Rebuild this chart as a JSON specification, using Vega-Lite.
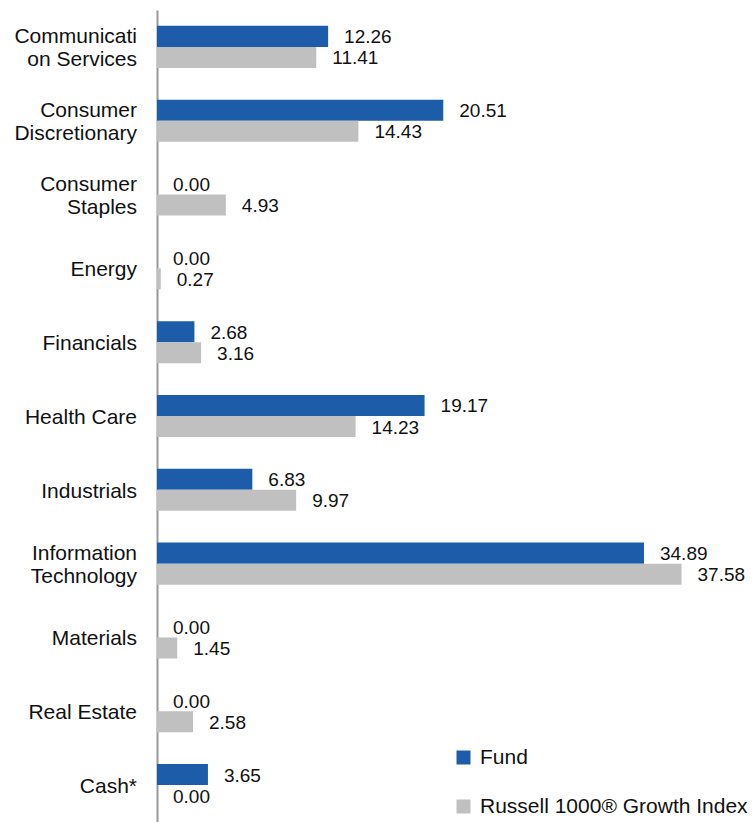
{
  "$schema": "https://vega.github.io/schema/vega-lite/v6.json",
  "autosize": {"type": "none"},
  "padding": {"left": 157, "top": 10, "right": 0, "bottom": 0},
  "width": 596,
  "height": 812,
  "background": "white",
  "config": {"view": {"stroke": null}, "font": "Liberation Sans"},
  "data": {"values": [
    {"sector": "Communicati|on Services", "series": "Fund", "value": 12.26},
    {"sector": "Communicati|on Services", "series": "Russell 1000®  Growth Index", "value": 11.41},
    {"sector": "Consumer|Discretionary", "series": "Fund", "value": 20.51},
    {"sector": "Consumer|Discretionary", "series": "Russell 1000®  Growth Index", "value": 14.43},
    {"sector": "Consumer|Staples", "series": "Fund", "value": 0.00},
    {"sector": "Consumer|Staples", "series": "Russell 1000®  Growth Index", "value": 4.93},
    {"sector": "Energy", "series": "Fund", "value": 0.00},
    {"sector": "Energy", "series": "Russell 1000®  Growth Index", "value": 0.27},
    {"sector": "Financials", "series": "Fund", "value": 2.68},
    {"sector": "Financials", "series": "Russell 1000®  Growth Index", "value": 3.16},
    {"sector": "Health Care", "series": "Fund", "value": 19.17},
    {"sector": "Health Care", "series": "Russell 1000®  Growth Index", "value": 14.23},
    {"sector": "Industrials", "series": "Fund", "value": 6.83},
    {"sector": "Industrials", "series": "Russell 1000®  Growth Index", "value": 9.97},
    {"sector": "Information|Technology", "series": "Fund", "value": 34.89},
    {"sector": "Information|Technology", "series": "Russell 1000®  Growth Index", "value": 37.58},
    {"sector": "Materials", "series": "Fund", "value": 0.00},
    {"sector": "Materials", "series": "Russell 1000®  Growth Index", "value": 1.45},
    {"sector": "Real Estate", "series": "Fund", "value": 0.00},
    {"sector": "Real Estate", "series": "Russell 1000®  Growth Index", "value": 2.58},
    {"sector": "Cash*", "series": "Fund", "value": 3.65},
    {"sector": "Cash*", "series": "Russell 1000®  Growth Index", "value": 0.00}
  ]},
  "encoding": {
    "y": {
      "field": "sector", "type": "nominal", "sort": null,
      "scale": {"paddingInner": 0.43, "paddingOuter": 0.215},
      "axis": {
        "title": null, "ticks": false, "labels": false, "domainColor": "#999999", "domainWidth": 2
      }
    },
    "x": {"field": "value", "type": "quantitative", "scale": {"domain": [0, 42.7], "nice": false}, "axis": null}
  },
  "layer": [
    {
      "mark": {"type": "bar"},
      "encoding": {
        "yOffset": {"field": "series", "type": "nominal", "sort": ["Fund", "Russell 1000®  Growth Index"]},
        "color": {
          "field": "series", "type": "nominal",
          "scale": {"domain": ["Fund", "Russell 1000®  Growth Index"], "range": ["#1c5ca8", "#c0c0c0"]},
          "legend": {
            "title": null, "orient": "none", "legendX": 296, "legendY": 737,
            "symbolType": "square", "symbolSize": 196, "labelFontSize": 21, "labelColor": "#111111",
            "rowPadding": 27, "labelOffset": 6, "symbolStrokeWidth": 0, "labelLimit": 0
          }
        }
      }
    },
    {
      "mark": {"type": "text", "align": "left", "baseline": "middle", "dx": 16, "dy": 1, "fontSize": 19, "color": "#111111"},
      "encoding": {
        "yOffset": {"field": "series", "type": "nominal", "sort": ["Fund", "Russell 1000®  Growth Index"]},
        "text": {"field": "value", "type": "quantitative", "format": ".2f"}
      }
    },
    {
      "transform": [{"filter": "datum.series == 'Fund' && indexof(datum.sector, '|') < 0"}],
      "mark": {"type": "text", "align": "right", "baseline": "middle", "dx": -20, "dy": 2, "fontSize": 21, "color": "#111111"},
      "encoding": {
        "x": {"datum": 0},
        "text": {"field": "sector"}
      }
    },
    {
      "transform": [{"filter": "datum.series == 'Fund' && indexof(datum.sector, '|') >= 0"}],
      "mark": {"type": "text", "align": "right", "baseline": "middle", "dx": -20, "dy": -10, "fontSize": 21, "lineHeight": 23, "lineBreak": "|", "color": "#111111"},
      "encoding": {
        "x": {"datum": 0},
        "text": {"field": "sector"}
      }
    }
  ]
}
